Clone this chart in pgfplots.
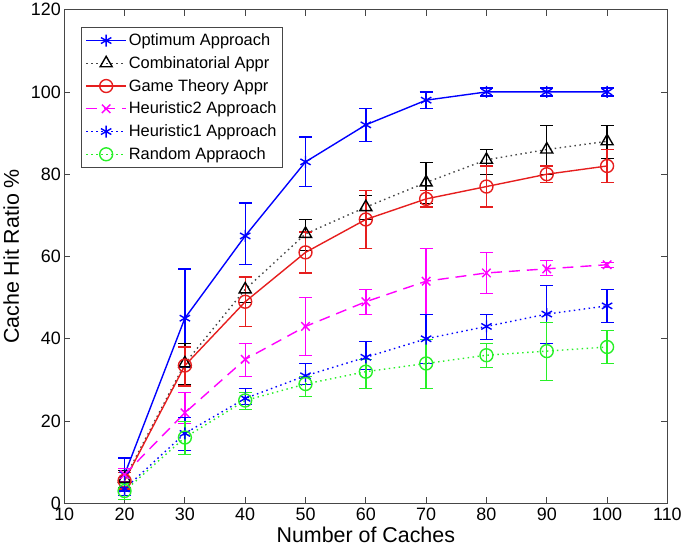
\documentclass[border=0pt]{standalone}
\usepackage{fontspec}
\setmainfont{Liberation Sans}
\usepackage{pgfplots}
\pgfplotsset{compat=1.18}
\usepackage{pgfplotstable}

% x  y  ep  em
\pgfplotstableread{
x y ep em
20 7 4 4
30 45 12 12
40 65 8 7
50 83 6 6
60 92 4 4
70 98 2 2
80 100 1 1
90 100 1 1
100 100 1 1
}\optimum
\pgfplotstableread{
x y ep em
20 6 2 2
30 34 5 5
40 52 3 3
50 65.5 3.5 4
60 72 3 3
70 78 5 5
80 83.5 2.5 3.5
90 86 6 6
100 88 4 4
}\combin
\pgfplotstableread{
x y ep em
20 5.5 2 2
30 33.5 4.5 5
40 49 6 6
50 61 5 5
60 69 7 7
70 74 2 2
80 77 5 5
90 80 2 2
100 82 4 4
}\game
\pgfplotstableread{
x y ep em
20 7 1.5 1.5
30 22 5 2.5
40 35 4 4
50 43 7 7
60 49 3 3
70 54 8 8
80 56 5 5
90 57 2 1.5
100 58 0.7 0.7
}\heurtwo
\pgfplotstableread{
x y ep em
20 3.5 1.5 1.5
30 17 4 4
40 25.5 2.5 1.5
50 31 3 2
60 35.5 4 3
70 40 6 6
80 43 3 3
90 46 7 7
100 48 4 4
}\heurone
\pgfplotstableread{
x y ep em
20 3 2 2
30 16 4 4
40 25 2 2
50 29 2 3
60 32 3 4
70 34 6 6
80 36 3 3
90 37 7 7
100 38 4 4
}\randm

\definecolor{mblue}{RGB}{0,0,255}
\definecolor{mred}{RGB}{230,30,30}
\definecolor{mmag}{RGB}{255,0,255}
\definecolor{mgreen}{RGB}{40,240,40}
\definecolor{mgrey}{RGB}{70,70,70}

\begin{document}
\begin{tikzpicture}
\begin{axis}[
    scale only axis,
    width=606pt, height=496pt,
    xmin=10, xmax=110, ymin=0, ymax=120,
    xtick={10,20,...,110}, ytick={0,20,...,120},
    tick align=inside, major tick length=6pt,
    axis line style={mgrey, line width=0.9pt},
    tick style={mgrey, line width=0.8pt},
    /pgf/number format/assume math mode=true,
    ticklabel style={font=\fontsize{18}{20}\selectfont},
    xticklabel style={yshift=-1pt},
    xlabel={Number of Caches}, ylabel={Cache Hit Ratio \%},
    label style={font=\fontsize{21.5}{24}\selectfont},
    xlabel style={yshift=0pt},
    ylabel style={yshift=5pt},
    legend cell align=left,
    legend style={at={(0.028,0.964)}, anchor=north west,
        font=\fontsize{16.5}{18}\selectfont, draw=mgrey, line width=0.9pt,
        row sep=5.4pt, inner xsep=4pt, inner ysep=4pt},
    legend image code/.code={
        \draw[mark repeat=2,mark phase=2] plot coordinates {(0pt,0pt) (20pt,0pt) (40pt,0pt)};},
    every axis plot/.append style={line width=1.4pt},
    error bars/y dir=both, error bars/y explicit,
    error bars/error mark options={rotate=90, mark size=6.5pt, line width=1.4pt},
    error bars/error bar style={line width=1.4pt},
]
\addplot[mblue, mark=asterisk, mark size=6pt, mark options={solid}]
    table[x=x, y=y, y error plus=ep, y error minus=em] {\optimum};
\addlegendentry{Optimum Approach}
\addplot[mgrey, dash pattern=on 1.5pt off 3.5pt, mark=triangle, mark size=7pt, mark options={solid, black},
    error bars/error bar style={solid, black},
    error bars/error mark options={solid, black, rotate=90, mark size=6.5pt}]
    table[x=x, y=y, y error plus=ep, y error minus=em] {\combin};
\addlegendentry{Combinatorial Appr}
\addplot[mred, mark=o, mark size=6.5pt, mark options={solid}]
    table[x=x, y=y, y error plus=ep, y error minus=em] {\game};
\addlegendentry{Game Theory Appr}
\addplot[mmag, dash pattern=on 11pt off 7pt, mark=x, mark size=6pt, mark options={solid},
    error bars/error bar style={solid},
    error bars/error mark options={solid, rotate=90, mark size=6.5pt}]
    table[x=x, y=y, y error plus=ep, y error minus=em] {\heurtwo};
\addlegendentry{Heuristic2 Approach}
\addplot[mblue, dash pattern=on 1.5pt off 3.5pt, mark=asterisk, mark size=6pt, mark options={solid},
    error bars/error bar style={solid},
    error bars/error mark options={solid, rotate=90, mark size=6.5pt}]
    table[x=x, y=y, y error plus=ep, y error minus=em] {\heurone};
\addlegendentry{Heuristic1 Approach}
\addplot[mgreen, dash pattern=on 1.5pt off 3.5pt, mark=o, mark size=6.5pt, mark options={solid},
    error bars/error bar style={solid},
    error bars/error mark options={solid, rotate=90, mark size=6.5pt}]
    table[x=x, y=y, y error plus=ep, y error minus=em] {\randm};
\addlegendentry{Random Appraoch}
\end{axis}
\end{tikzpicture}
\end{document}
